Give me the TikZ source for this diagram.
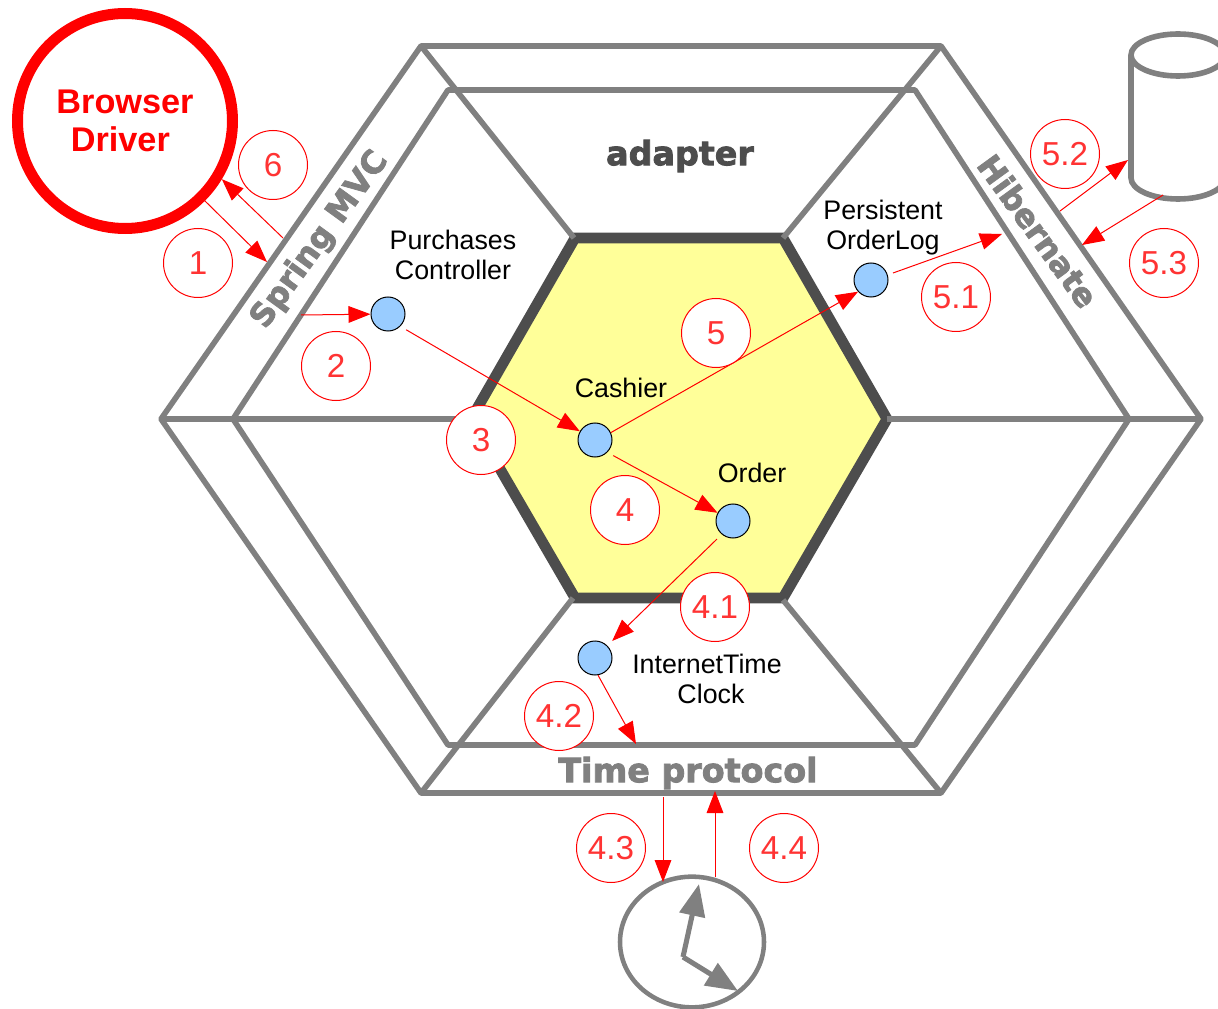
\documentclass[tikz,border=0pt]{standalone}
\usepackage{fontspec}
\setmainfont{Liberation Sans}
\newfontfamily\heavyfont[FakeBold=2.5]{DejaVu Sans Bold}
\usetikzlibrary{arrows.meta,shapes.geometric,calc}
\definecolor{band}{HTML}{808080}
\definecolor{core}{HTML}{4D4D4D}
\definecolor{corefill}{HTML}{FFFF99}
\definecolor{bluefill}{HTML}{99CCFF}
\definecolor{numred}{HTML}{FF3333}
\tikzset{
  hexline/.style={draw=band,line width=4.2pt,line join=round},
  obj/.style={circle,draw=black,line width=0.75pt,fill=bluefill,minimum size=25.5pt,inner sep=0pt},
  num/.style={circle,draw=red,line width=0.75pt,fill=white,minimum size=51.75pt,inner sep=0pt,text=numred,font=\fontsize{24.9}{26}\selectfont},
  lbl/.style={align=center,inner sep=0pt,font=\fontsize{20.1}{22.5}\selectfont},
  heavy/.style={inner sep=0pt,text=band,font=\heavyfont\fontsize{25}{27}\selectfont},
  flow/.style={draw=red,line width=0.75pt,-{Triangle[length=16.5pt,width=12.5pt]}},
  hand/.style={draw=band,line width=3.8pt,-{Triangle[length=24pt,width=19pt]}},
}
\begin{document}
\begin{tikzpicture}[x=0.75pt,y=-0.75pt]
\useasboundingbox (0,0) rectangle (1218,1009);
% hexagons
\draw[hexline] (421,46) -- (941,46) -- (1201,419) -- (941,793) -- (421,793) -- (161,419) -- cycle;
\draw[hexline] (448,90) -- (915,90) -- (1129,419) -- (915,745) -- (448,745) -- (233,419) -- cycle;
\draw[draw=core,fill=corefill,line width=8pt] (575,238) -- (783,238) -- (887,419) -- (783,598) -- (575,598) -- (471,419) -- cycle;
\draw[hexline] (421,46) -- (574,238) (941,46) -- (783,238) (1201,419) -- (887,419)
  (941,793) -- (783,600) (421,793) -- (573,598) (161,419) -- (471,419);
% band labels
\node[heavy,text=core] (adapter) at (680,156) {adapter};
\node[heavy,rotate=54,font=\heavyfont\fontsize{24}{27}\selectfont] (spring) at (320,240) {Spring MVC};
\node[heavy,rotate=-54,font=\heavyfont\fontsize{24}{27}\selectfont] (hibernate) at (1038,231) {Hibernate};
\node[heavy] (timeproto) at (688,773) {Time protocol};
% browser driver
\node[circle,draw=red,line width=8.25pt,minimum size=161.25pt,inner sep=0pt,text=red,align=center,
  font=\bfseries\fontsize{25.7}{29}\selectfont] (browser) at (125,121) {Browser\\[0pt]\hspace*{-7pt}Driver};
% database
\begin{scope}
\clip (1100,0) rectangle (1218,250);
\draw[band,line width=4.2pt] (1178,55) ellipse [x radius=47,y radius=21];
\draw[band,line width=4.2pt] (1131,55) -- (1131,178) arc[start angle=180,end angle=360,x radius=47,y radius=-21] -- (1225,55);
\end{scope}
% clock
\node[ellipse,draw=band,line width=3.4pt,minimum width=108pt,minimum height=98pt,inner sep=0pt] (clock) at (692,942) {};
\coordinate (pivot) at (683,957);
\coordinate (hourtip) at (699,884);
\coordinate (mintip) at (738,991);
\draw[hand] (pivot) -- (hourtip);
\draw[hand] (pivot) -- (mintip);
% objects
\node[obj] (purch) at (388,314) {};
\node[obj] (cashier) at (595,440) {};
\node[obj] (order) at (733,521) {};
\node[obj] (plog) at (871,280) {};
\node[obj] (clockobj) at (595,658) {};
% object labels
\node[lbl] (purchl) at (453,255) {Purchases\\Controller};
\node[lbl] (cashl) at (621,388) {Cashier};
\node[lbl] (orderl) at (752,473) {Order};
\node[lbl] (plogl) at (883,228) {Persistent\\OrderLog};
\node[lbl] (clockl) at (707,679) {InternetTime\\\hspace*{6pt}Clock};
% connector ends
\coordinate (mvcin) at (267,262);
\coordinate (mvcout) at (283,238);
\coordinate (mvcinner) at (301,315);
\coordinate (hibin) at (1002,234);
\coordinate (plogout) at (893,273);
\coordinate (hibout) at (1060,211);
\coordinate (dbin) at (1128,160);
\coordinate (dbout) at (1163,195);
\coordinate (hibback) at (1082,245);
\coordinate (timein) at (636,744);
\coordinate (timeout) at (663,797);
\coordinate (timeback) at (715,791);
\coordinate (clockin) at (663,882);
\coordinate (clockout) at (715,877);
% connectors
\draw[flow] (browser.-45) -- (mvcin);
\draw[flow] (mvcout) -- (browser.-31);
\draw[flow] (mvcinner) -- (purch);
\draw[flow,shorten <=5pt] (purch.-45) -- (cashier.150);
\draw[flow,shorten <=5pt] (cashier.-45) -- (order.152);
\draw[flow] (cashier.25) -- (plog.222);
\draw[flow] (plogout) -- (hibin);
\draw[flow] (hibout) -- (dbin);
\draw[flow] (dbout) -- (hibback);
\draw[flow,shorten <=5pt,shorten >=5pt] (order.-130) -- (clockobj.45);
\draw[flow] (clockobj.-80) -- (timein);
\draw[flow] (timeout) -- (clockin);
\draw[flow] (clockout) -- (timeback);
% step numbers
\node[num] (n1) at (198,263) {1};
\node[num] (n6) at (273,165) {6};
\node[num] (n2) at (336,366) {2};
\node[num] (n3) at (481,440) {3};
\node[num] (n4) at (625,510) {4};
\node[num] (n5) at (716,333) {5};
\node[num] (n51) at (956,297) {5.1};
\node[num] (n52) at (1065,154) {5.2};
\node[num] (n53) at (1164,263) {5.3};
\node[num] (n41) at (715,607) {4.1};
\node[num] (n42) at (559,716) {4.2};
\node[num] (n43) at (611,848) {4.3};
\node[num] (n44) at (784,848) {4.4};
\end{tikzpicture}
\end{document}
